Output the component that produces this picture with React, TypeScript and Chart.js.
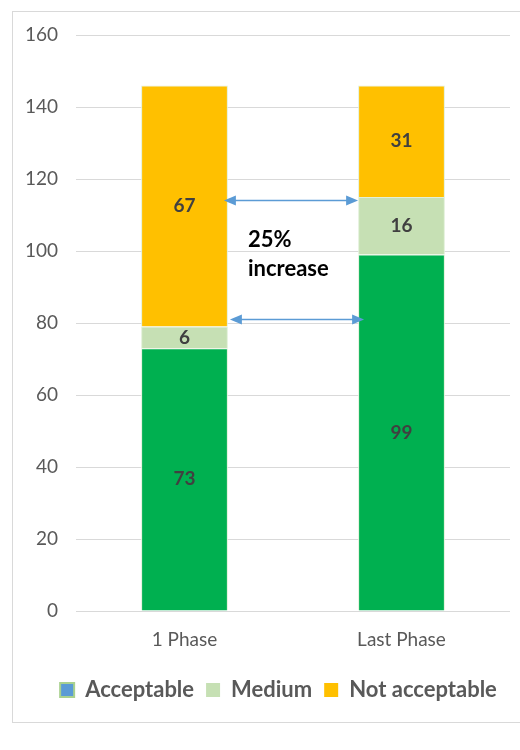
import React, { useEffect, useRef } from "react";
import { Chart, registerables } from "chart.js";

Chart.register(...registerables);

const categories = ["1 Phase", "Last Phase"];
const acceptable = [73, 99];
const medium = [6, 16];
const notAcceptable = [67, 31];
const seriesNames = ["Acceptable", "Medium", "Not acceptable"];
const seriesColors = ["#00B050", "#C6E0B4", "#FFC000"];
const legendColors = ["#5B9BD5", "#C6E0B4", "#FFC000"];
const yTicks = [0, 20, 40, 60, 80, 100, 120, 140, 160];
const arrowLevels = [114, 81];
const arrowOffsets = [[-4, 130], [2, 136]];
const noteLines = ["25%", "increase"];
const noteLevels = [103, 95];

const FONT = "Lato, 'Open Sans', sans-serif";

const overlayPlugin = {
  id: "overlay",
  afterLayout(chart: any) {
    if (chart.legend) {
      chart.legend.left = 47;
      chart.legend.right = 510;
    }
  },
  beforeDraw(chart: any) {
    const ctx = chart.ctx;
    ctx.save();
    ctx.strokeStyle = "#D9D9D9";
    ctx.lineWidth = 1;
    ctx.strokeRect(12.5, 11.5, 520, 711);
    ctx.restore();
  },
  afterDatasetsDraw(chart: any) {
    const ctx = chart.ctx;
    const y = chart.scales.y;
    ctx.save();
    ctx.font = `bold 19px ${FONT}`;
    ctx.fillStyle = "#404040";
    ctx.textAlign = "center";
    ctx.textBaseline = "middle";
    chart.data.datasets.forEach((ds: any, di: number) => {
      const meta = chart.getDatasetMeta(di);
      meta.data.forEach((bar: any, i: number) => {
        const v = ds.data[i];
        const cy = (bar.y + bar.base) / 2;
        ctx.fillText(String(v), bar.x, cy);
      });
    });
    const m0 = chart.getDatasetMeta(0).data;
    const right0 = m0[0].x + m0[0].width / 2;
    const left1 = m0[1].x - m0[1].width / 2;
    ctx.strokeStyle = "#5B9BD5";
    ctx.fillStyle = "#5B9BD5";
    ctx.lineWidth = 1.5;
    arrowLevels.forEach((lv, k) => {
      const yy = y.getPixelForValue(lv);
      const x1 = right0 + arrowOffsets[k][0];
      const x2 = left1 + (arrowOffsets[k][1] - 130);
      const ah = 10, aw = 5;
      ctx.beginPath();
      ctx.moveTo(x1 + ah, yy);
      ctx.lineTo(x2 - ah, yy);
      ctx.stroke();
      ctx.beginPath();
      ctx.moveTo(x1, yy);
      ctx.lineTo(x1 + ah + 2, yy - aw);
      ctx.lineTo(x1 + ah + 2, yy + aw);
      ctx.closePath();
      ctx.fill();
      ctx.beginPath();
      ctx.moveTo(x2, yy);
      ctx.lineTo(x2 - ah - 2, yy - aw);
      ctx.lineTo(x2 - ah - 2, yy + aw);
      ctx.closePath();
      ctx.fill();
    });
    ctx.font = `bold 22px ${FONT}`;
    ctx.fillStyle = "#000000";
    ctx.textAlign = "left";
    noteLines.forEach((t, k) => {
      ctx.fillText(t, right0 + 20, y.getPixelForValue(noteLevels[k]));
    });
    ctx.restore();
  },
};

export default function App() {
  const ref = useRef<HTMLCanvasElement | null>(null);
  useEffect(() => {
    if (!ref.current) return;
    const chart = new Chart(ref.current, {
      type: "bar",
      data: {
        labels: categories,
        datasets: [acceptable, medium, notAcceptable].map((d, i) => ({
          label: seriesNames[i],
          data: d,
          backgroundColor: seriesColors[i],
          borderColor: "#E2F0D9",
          borderWidth: 1,
          barPercentage: 0.4,
          categoryPercentage: 1,
        })),
      },
      options: {
        animation: false,
        responsive: false,
        devicePixelRatio: 1,
        layout: { padding: { top: 35, right: 10, left: 0, bottom: 39 } },
        plugins: {
          tooltip: { enabled: false },
          legend: {
            position: "bottom",
            labels: {
              font: { family: FONT, size: 22, weight: "bold" },
              color: "#595959",
              boxWidth: 14,
              boxHeight: 14,
              padding: 12,
              generateLabels: () =>
                seriesNames.map((n, i) => ({
                  text: n,
                  fillStyle: legendColors[i],
                  strokeStyle: i === 0 ? "#A9D18E" : legendColors[i],
                  lineWidth: i === 0 ? 2 : 0,
                  hidden: false,
                  datasetIndex: i,
                  fontColor: "#595959",
                })),
            },
          },
        },
        scales: {
          x: {
            stacked: true,
            grid: { display: false, drawTicks: false },
            border: { display: false },
            ticks: { font: { family: FONT, size: 19 }, color: "#595959", padding: 17 },
            afterFit: (s: any) => { s.height = 56; },
          },
          y: {
            stacked: true,
            min: 0,
            max: 160,
            afterBuildTicks: (s: any) => { s.ticks = yTicks.map((v) => ({ value: v })); },
            grid: { color: "#D9D9D9", drawTicks: false, lineWidth: 1 },
            border: { display: false },
            ticks: { font: { family: FONT, size: 19 }, color: "#595959", padding: 18 },
            afterFit: (s: any) => { s.width = 76; },
          },
        },
      },
      plugins: [overlayPlugin],
    } as any);
    return () => chart.destroy();
  }, []);
  return (
    <div style={{ position: "absolute", left: 0, top: 0, width: 520, height: 750, background: "#fff" }}>
      <canvas ref={ref} width={520} height={750} style={{ width: 520, height: 750 }} />
    </div>
  );
}
